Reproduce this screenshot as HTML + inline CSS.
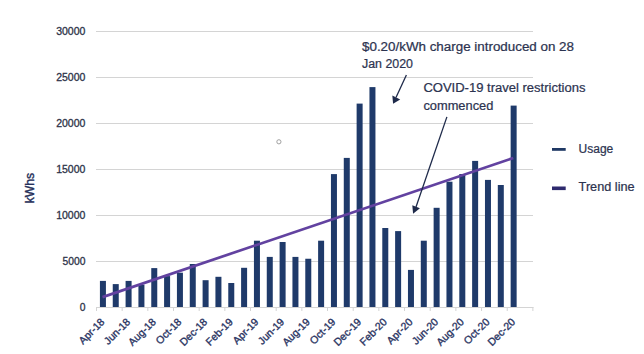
<!DOCTYPE html>
<html><head><meta charset="utf-8"><style>
html,body{margin:0;padding:0;background:#fff;}
body{width:644px;height:354px;overflow:hidden;}
svg{display:block;font-family:"Liberation Sans",sans-serif;}
</style></head><body>
<svg width="644" height="354" viewBox="0 0 644 354">
<rect width="644" height="354" fill="#fff"/>
<g stroke="#d4d4d4" stroke-width="1">
<line x1="96" y1="31.5" x2="533" y2="31.5"/>
<line x1="96" y1="77.5" x2="533" y2="77.5"/>
<line x1="96" y1="123.5" x2="533" y2="123.5"/>
<line x1="96" y1="169.5" x2="533" y2="169.5"/>
<line x1="96" y1="215.5" x2="533" y2="215.5"/>
<line x1="96" y1="261.5" x2="533" y2="261.5"/>
</g>
<g stroke="#d4d4d4" stroke-width="1">
<line x1="96" y1="307.5" x2="533.5" y2="307.5"/>
<line x1="96.50" y1="307" x2="96.50" y2="311"/>
<line x1="122.17" y1="307" x2="122.17" y2="311"/>
<line x1="147.84" y1="307" x2="147.84" y2="311"/>
<line x1="173.51" y1="307" x2="173.51" y2="311"/>
<line x1="199.18" y1="307" x2="199.18" y2="311"/>
<line x1="224.85" y1="307" x2="224.85" y2="311"/>
<line x1="250.52" y1="307" x2="250.52" y2="311"/>
<line x1="276.19" y1="307" x2="276.19" y2="311"/>
<line x1="301.86" y1="307" x2="301.86" y2="311"/>
<line x1="327.53" y1="307" x2="327.53" y2="311"/>
<line x1="353.20" y1="307" x2="353.20" y2="311"/>
<line x1="378.87" y1="307" x2="378.87" y2="311"/>
<line x1="404.54" y1="307" x2="404.54" y2="311"/>
<line x1="430.21" y1="307" x2="430.21" y2="311"/>
<line x1="455.88" y1="307" x2="455.88" y2="311"/>
<line x1="481.55" y1="307" x2="481.55" y2="311"/>
<line x1="507.22" y1="307" x2="507.22" y2="311"/>
<line x1="532.89" y1="307" x2="532.89" y2="311"/>
</g>
<g fill="#1f3a6a">
<rect x="99.92" y="280.90" width="6.0" height="26.10"/>
<rect x="112.75" y="284.10" width="6.0" height="22.90"/>
<rect x="125.59" y="280.90" width="6.0" height="26.10"/>
<rect x="138.42" y="284.70" width="6.0" height="22.30"/>
<rect x="151.26" y="268.10" width="6.0" height="38.90"/>
<rect x="164.09" y="276.10" width="6.0" height="30.90"/>
<rect x="176.93" y="272.70" width="6.0" height="34.30"/>
<rect x="189.76" y="264.00" width="6.0" height="43.00"/>
<rect x="202.60" y="280.20" width="6.0" height="26.80"/>
<rect x="215.43" y="276.80" width="6.0" height="30.20"/>
<rect x="228.27" y="283.00" width="6.0" height="24.00"/>
<rect x="241.10" y="267.80" width="6.0" height="39.20"/>
<rect x="253.94" y="240.70" width="6.0" height="66.30"/>
<rect x="266.77" y="256.90" width="6.0" height="50.10"/>
<rect x="279.61" y="242.00" width="6.0" height="65.00"/>
<rect x="292.44" y="256.90" width="6.0" height="50.10"/>
<rect x="305.28" y="258.75" width="6.0" height="48.25"/>
<rect x="318.11" y="240.70" width="6.0" height="66.30"/>
<rect x="330.95" y="174.10" width="6.0" height="132.90"/>
<rect x="343.78" y="157.90" width="6.0" height="149.10"/>
<rect x="356.62" y="103.60" width="6.0" height="203.40"/>
<rect x="369.45" y="87.10" width="6.0" height="219.90"/>
<rect x="382.29" y="228.00" width="6.0" height="79.00"/>
<rect x="395.12" y="231.10" width="6.0" height="75.90"/>
<rect x="407.96" y="269.90" width="6.0" height="37.10"/>
<rect x="420.79" y="240.70" width="6.0" height="66.30"/>
<rect x="433.63" y="207.80" width="6.0" height="99.20"/>
<rect x="446.46" y="181.70" width="6.0" height="125.30"/>
<rect x="459.30" y="174.00" width="6.0" height="133.00"/>
<rect x="472.13" y="160.90" width="6.0" height="146.10"/>
<rect x="484.97" y="179.90" width="6.0" height="127.10"/>
<rect x="497.80" y="185.00" width="6.0" height="122.00"/>
<rect x="510.64" y="105.60" width="6.0" height="201.40"/>
</g>
<line x1="102.5" y1="297.1" x2="513.3" y2="158" stroke="#6242a0" stroke-width="2.7"/>
<g fill="#2c3248" stroke="#2c3248" stroke-width="0.3" font-size="10.3" text-anchor="end">
<text x="85.4" y="34.7" textLength="29.2" lengthAdjust="spacingAndGlyphs">30000</text>
<text x="85.4" y="80.7" textLength="29.2" lengthAdjust="spacingAndGlyphs">25000</text>
<text x="85.4" y="126.7" textLength="29.2" lengthAdjust="spacingAndGlyphs">20000</text>
<text x="85.4" y="172.7" textLength="29.2" lengthAdjust="spacingAndGlyphs">15000</text>
<text x="85.4" y="218.7" textLength="29.2" lengthAdjust="spacingAndGlyphs">10000</text>
<text x="85.4" y="264.7" textLength="22.9" lengthAdjust="spacingAndGlyphs">5000</text>
<text x="85.4" y="310.7">0</text>
</g>
<g fill="#2b3563" stroke="#2b3563" stroke-width="0.35" font-size="10.5">
<text transform="translate(105.22,322.6) rotate(-45)" text-anchor="end">Apr-18</text>
<text transform="translate(130.89,322.6) rotate(-45)" text-anchor="end">Jun-18</text>
<text transform="translate(156.56,322.6) rotate(-45)" text-anchor="end">Aug-18</text>
<text transform="translate(182.23,322.6) rotate(-45)" text-anchor="end">Oct-18</text>
<text transform="translate(207.90,322.6) rotate(-45)" text-anchor="end">Dec-18</text>
<text transform="translate(233.57,322.6) rotate(-45)" text-anchor="end">Feb-19</text>
<text transform="translate(259.24,322.6) rotate(-45)" text-anchor="end">Apr-19</text>
<text transform="translate(284.91,322.6) rotate(-45)" text-anchor="end">Jun-19</text>
<text transform="translate(310.58,322.6) rotate(-45)" text-anchor="end">Aug-19</text>
<text transform="translate(336.25,322.6) rotate(-45)" text-anchor="end">Oct-19</text>
<text transform="translate(361.92,322.6) rotate(-45)" text-anchor="end">Dec-19</text>
<text transform="translate(387.59,322.6) rotate(-45)" text-anchor="end">Feb-20</text>
<text transform="translate(413.26,322.6) rotate(-45)" text-anchor="end">Apr-20</text>
<text transform="translate(438.93,322.6) rotate(-45)" text-anchor="end">Jun-20</text>
<text transform="translate(464.60,322.6) rotate(-45)" text-anchor="end">Aug-20</text>
<text transform="translate(490.27,322.6) rotate(-45)" text-anchor="end">Oct-20</text>
<text transform="translate(515.94,322.6) rotate(-45)" text-anchor="end">Dec-20</text>
</g>
<text transform="translate(33.8,203.3) rotate(-90)" fill="#27305a" stroke="#27305a" stroke-width="0.4" font-size="12.3" textLength="30.5" lengthAdjust="spacingAndGlyphs">kWhs</text>
<g fill="#2c3350" stroke="#2c3350" stroke-width="0.22" font-size="12">
<text x="362" y="51" textLength="212" lengthAdjust="spacingAndGlyphs">$0.20/kWh charge introduced on 28</text>
<text x="362" y="68.2" textLength="51" lengthAdjust="spacingAndGlyphs">Jan 2020</text>
<text x="423.4" y="92.3" textLength="162" lengthAdjust="spacingAndGlyphs">COVID-19 travel restrictions</text>
<text x="423.4" y="110" textLength="70" lengthAdjust="spacingAndGlyphs">commenced</text>
</g>
<g stroke="#1e2a4a" stroke-width="1.3" fill="none">
<line x1="406.4" y1="75.1" x2="396" y2="97.5"/>
<line x1="446.9" y1="116.9" x2="416" y2="207"/>
</g>
<g fill="#1e2a4a">
<polygon points="392.3,95.4 400.2,99.5 393.1,103.8"/>
<polygon points="412.3,205.3 419.9,208.2 413.1,213.7"/>
</g>
<rect x="552" y="148" width="13.7" height="2.8" fill="#1f3864"/>
<rect x="552" y="186.5" width="13.7" height="3.6" fill="#2e2a6e"/>
<g fill="#2c3350" stroke="#2c3350" stroke-width="0.22" font-size="12">
<text x="578.6" y="152.7">Usage</text>
<text x="578.6" y="191.3" textLength="56" lengthAdjust="spacingAndGlyphs">Trend line</text>
</g>
<circle cx="278.9" cy="141.8" r="2.1" fill="none" stroke="#a0a0a0" stroke-width="1"/>
</svg>
</body></html>
